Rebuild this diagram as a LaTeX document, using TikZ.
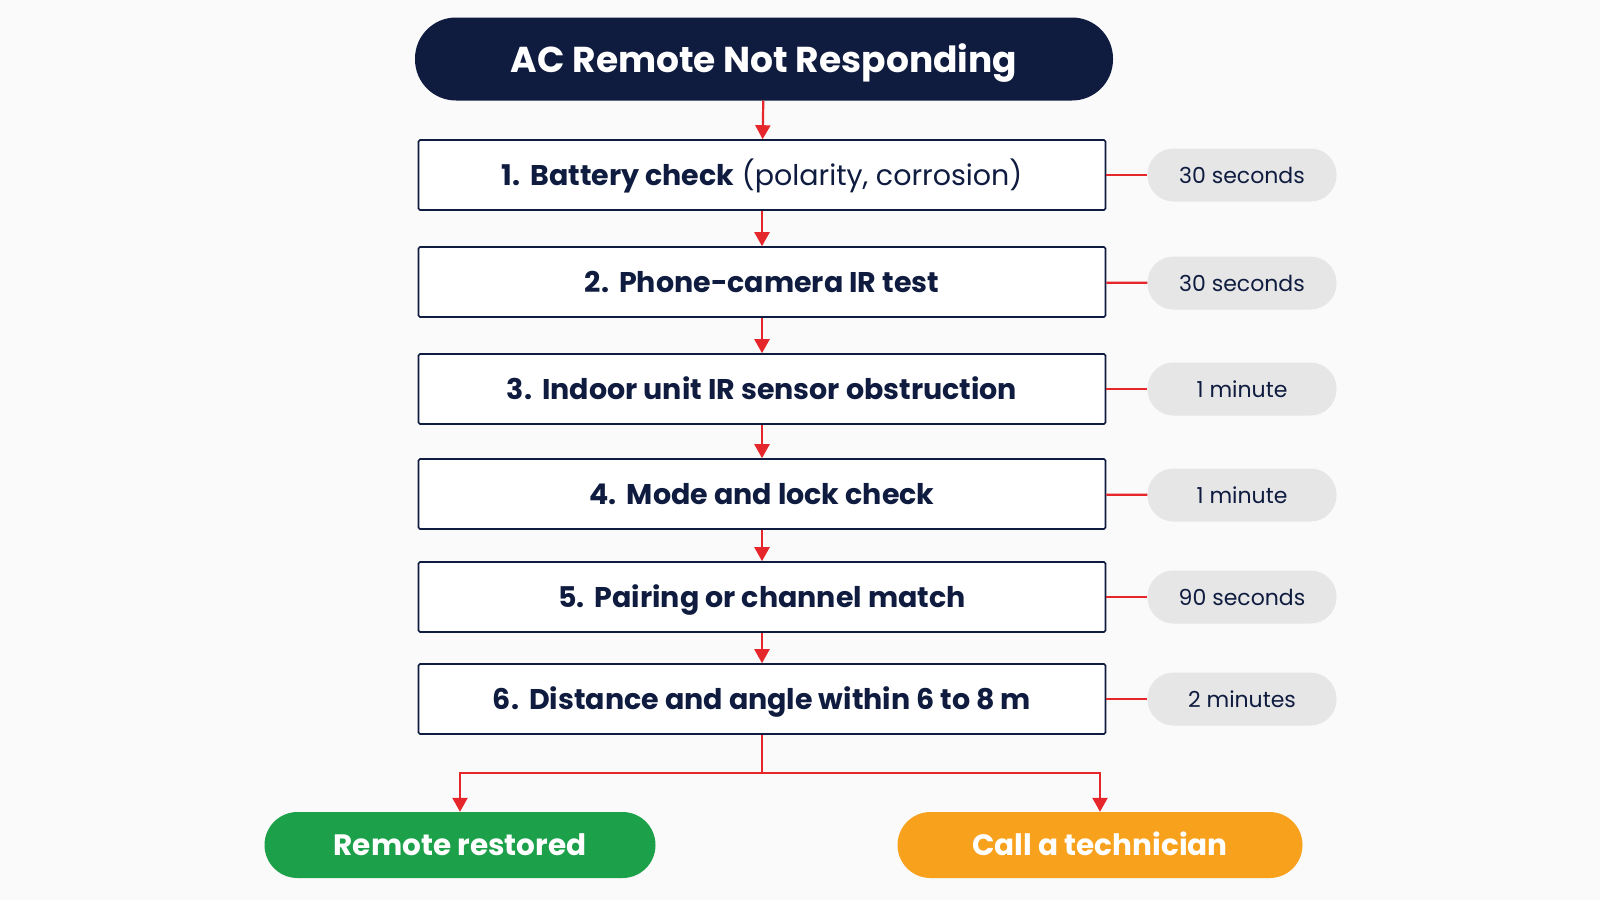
\documentclass[tikz,border=0pt]{standalone}
\usepackage{fontspec}
\setmainfont{Poppins}
\usetikzlibrary{arrows.meta}
\definecolor{navy}{HTML}{0F1C40}
\definecolor{linkred}{HTML}{E5262B}
\definecolor{pillgray}{HTML}{E6E6E6}
\definecolor{okgreen}{HTML}{1CA04A}
\definecolor{callorange}{HTML}{F7A11D}
\begin{document}
\begin{tikzpicture}
[x=1pt,y=-1pt,
every node/.style={inner sep=0pt,text depth=0pt},
headpill/.style={fill=navy,text=white,rounded corners=41pt,minimum width=698pt,minimum height=83pt,text height=26pt,font=\fontsize{36}{42}\selectfont\bfseries},
stepbox/.style={draw=navy,line width=1.6pt,fill=white,rounded corners=1.5pt,minimum width=687pt,minimum height=70pt,text height=21pt,text=navy,font=\fontsize{28.5}{34}\selectfont},
timepill/.style={fill=pillgray,rounded corners=26pt,minimum width=189pt,minimum height=53pt,text height=16pt,text=navy,font=\fontsize{22}{26}\selectfont},
endpill/.style={text=white,rounded corners=33pt,minimum height=66pt,text height=21pt,font=\fontsize{29.5}{35}\selectfont\bfseries},
link/.style={draw=linkred,line width=2.2pt},
arr/.style={link,-{Triangle[length=14pt,width=15pt]}}]
\fill[gray!4] (0,0) rectangle (1600,900);
\node[headpill] (top) at (764,59) {AC Remote Not Responding};
\node[stepbox] (s1) at (762,175) {\textbf{1.\hspace{.35em}Battery check} (polarity, corrosion)};
\node[stepbox] (s2) at (762,282) {\textbf{2.\hspace{.35em}Phone-camera IR test}};
\node[stepbox] (s3) at (762,389) {\textbf{3.\hspace{.35em}Indoor unit IR sensor obstruction}};
\node[stepbox] (s4) at (762,494) {\textbf{4.\hspace{.35em}Mode and lock check}};
\node[stepbox] (s5) at (762,597) {\textbf{5.\hspace{.35em}Pairing or channel match}};
\node[stepbox] (s6) at (762,699) {\textbf{6.\hspace{.35em}Distance and angle within 6 to 8 m}};
\node[timepill] (t1) at (1242,175) {30 seconds};
\node[timepill] (t2) at (1242,283) {30 seconds};
\node[timepill] (t3) at (1242,389) {1 minute};
\node[timepill] (t4) at (1242,495) {1 minute};
\node[timepill] (t5) at (1242,597) {90 seconds};
\node[timepill] (t6) at (1242,699) {2 minutes};
\node[endpill,fill=okgreen,minimum width=391pt] (ok) at (460,845) {Remote restored};
\node[endpill,fill=callorange,minimum width=405pt] (tech) at (1100,845) {Call a technician};
\foreach \from/\to in {top/s1,s1/s2,s2/s3,s3/s4,s4/s5,s5/s6}
\draw[arr] (\from) -- (\to);
\foreach \n in {1,...,6}
\draw[link] (s\n) -- (t\n);
\coordinate (split) at ([yshift=-38pt]s6.south);
\draw[link] (s6.south) -- (split);
\draw[arr] (split) -| (ok.north);
\draw[arr] (split) -| (tech.north);
\end{tikzpicture}
\end{document}
